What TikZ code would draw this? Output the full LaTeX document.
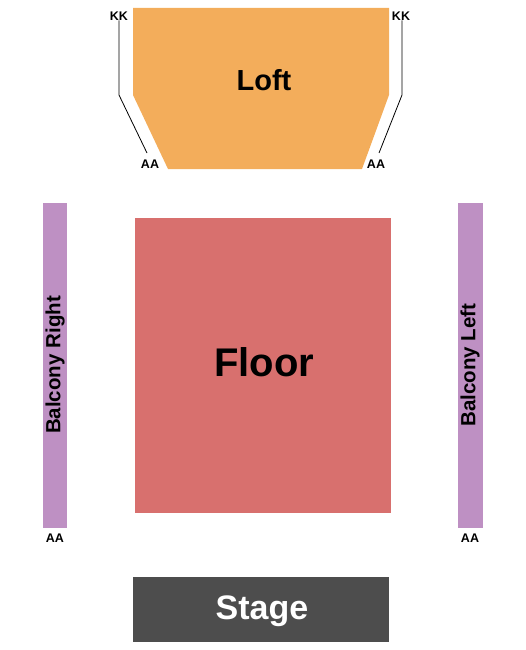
\documentclass[tikz,border=0pt]{standalone}
\usepackage{fontspec}
\setmainfont{Liberation Sans}
\definecolor{loftc}{RGB}{243,173,91}
\definecolor{floorc}{RGB}{216,112,110}
\definecolor{balc}{RGB}{190,144,195}
\definecolor{stagec}{RGB}{77,77,77}
\begin{document}
\begin{tikzpicture}[x=1pt,y=-1pt,
  lbl/.style={font=\bfseries\fontsize{12.5}{12.5}\selectfont, inner sep=0pt},
  secname/.style={font=\bfseries\fontsize{#1}{#1}\selectfont, inner sep=0pt},
  guide/.style={draw=black, line width=0.8pt}]
\useasboundingbox (0,0) rectangle (525,650);
% Loft
\fill[loftc] (133,8) -- (389,8) -- (389,95) -- (362,169) -- (168,169) -- (133,95) -- cycle;
\node[secname=29] (loft) at (264,80) {Loft};
% guides
\node[lbl] (kkl) at (119,16) {KK};
\node[lbl] (kkr) at (401,16) {KK};
\node[lbl] (aal) at (150,164) {AA};
\node[lbl] (aar) at (376,164) {AA};
\coordinate (gl1) at (119,95);
\coordinate (gr1) at (402,95);
\coordinate (gl2) at (147,153);
\coordinate (gr2) at (379,153);
\draw[guide] (kkl.south) -- (gl1) -- (gl2);
\draw[guide] (kkr.south -| gr1) -- (gr1) -- (gr2);
% Balconies
\fill[balc] (43,203) rectangle (67,528);
\node[secname=20.5, rotate=90] (balr) at (55,365) {Balcony Right};
\node[lbl] (aabr) at (55,538) {AA};
\fill[balc] (458,203) rectangle (483,528);
\node[secname=20.5, rotate=90] (ball) at (470,365) {Balcony Left};
\node[lbl] (aabl) at (470,538) {AA};
% Floor
\fill[floorc] (135,218) rectangle (391,513);
\node[secname=40] (floor) at (264,362) {Floor};
% Stage
\fill[stagec] (133,577) rectangle (389,642);
\node[secname=34, text=white] (stage) at (262,611) {Stage};
\end{tikzpicture}
\end{document}
